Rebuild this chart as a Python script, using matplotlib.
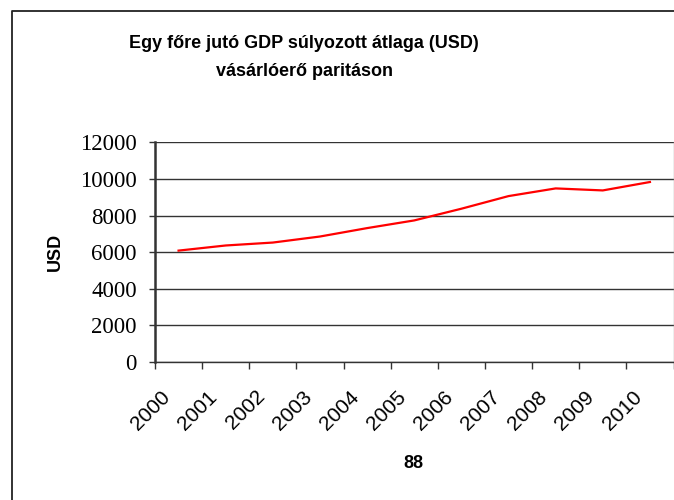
import matplotlib
matplotlib.use('Agg')
import matplotlib.pyplot as plt
from matplotlib.lines import Line2D
from matplotlib.transforms import ScaledTranslation

years = ['2000', '2001', '2002', '2003', '2004', '2005', '2006', '2007', '2008', '2009', '2010']
gdp = [6090, 6370, 6530, 6860, 7320, 7740, 8380, 9070, 9490, 9380, 9840]
y_ticks = [0, 2000, 4000, 6000, 8000, 10000, 12000]


def main():
    fig = plt.figure(figsize=(6.74, 5.0), dpi=100)

    # outer chart border, only left and top edges are inside the picture
    bx, by = 12.5 / 674, 1 - 10.5 / 500
    fig.lines.append(Line2D([bx, bx, 1.02], [-0.02, by, by], transform=fig.transFigure,
                            color='#222222', linewidth=1.3, solid_capstyle='butt'))

    ax = fig.add_axes([155 / 674, 1 - 362 / 500, (673.5 - 155) / 674, (362 - 142.5) / 500])
    x = list(range(len(years)))
    ax.plot(x, gdp, color='#ff0000', linewidth=1.6)

    ax.set_xlim(-0.5, len(years) - 0.5)
    ax.set_ylim(0, 12000)
    ax.set_yticks(y_ticks)
    ax.set_yticklabels([str(v) for v in y_ticks], fontfamily='Liberation Serif', fontsize=16.5)
    ax.grid(axis='y', color='#333333', linewidth=1.0)
    ax.set_axisbelow(True)

    # ticks between categories, labels at category centres
    ax.set_xticks([i - 0.5 for i in range(len(years) + 1)])
    ax.set_xticklabels([])
    lab_shift = ax.get_xaxis_transform() + ScaledTranslation(-0.18, -0.25, fig.dpi_scale_trans)
    for i, yr in enumerate(years):
        ax.text(i, 0, yr, transform=lab_shift, rotation=45, ha='right', va='top',
                rotation_mode='anchor', fontfamily='Liberation Sans', fontsize=15)
    ax.tick_params(axis='x', length=5, width=1, color='#333333', direction='out')
    ax.tick_params(axis='y', length=4, width=1, color='#333333', direction='out', pad=9)

    ax.spines['top'].set_visible(False)
    ax.spines['right'].set_color('#aaaaaa')
    ax.spines['right'].set_linewidth(1.0)
    ax.spines['left'].set_linewidth(1.8)
    ax.spines['left'].set_color('#333333')
    ax.spines['bottom'].set_linewidth(1.0)
    ax.spines['bottom'].set_color('#333333')

    ax.set_ylabel('USD', fontfamily='Liberation Sans', fontweight='bold', fontsize=13, labelpad=12)
    fig.text(413 / 674, 1 - 463 / 500, '88', ha='center', va='center',
             fontfamily='Liberation Sans', fontweight='bold', fontsize=13)

    fig.text(304 / 674, 1 - 44 / 500, 'Egy főre jutó GDP súlyozott átlaga (USD)', ha='center', va='center',
             fontfamily='Liberation Sans', fontweight='bold', fontsize=13)
    fig.text(304 / 674, 1 - 72 / 500, 'vásárlóerő paritáson', ha='center', va='center',
             fontfamily='Liberation Sans', fontweight='bold', fontsize=13)

    plt.savefig('out.png', dpi=100)


if __name__ == "__main__":
    main()
